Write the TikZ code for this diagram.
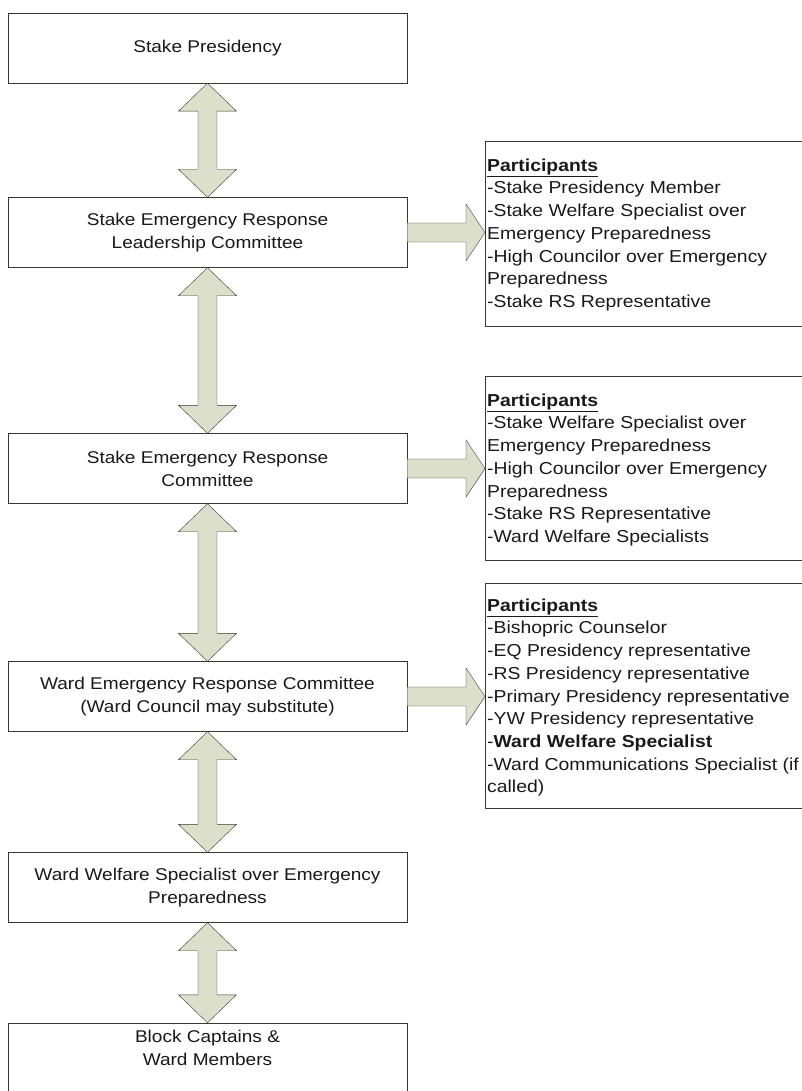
\documentclass[tikz,border=0pt]{standalone}
\usepackage{fontspec}
\setmainfont[FakeStretch=1.12]{Liberation Sans}
\usetikzlibrary{calc}

\definecolor{arrowfill}{RGB}{220,223,202}
\definecolor{boxline}{RGB}{55,55,55}
\definecolor{textgray}{RGB}{25,25,25}

\tikzset{
    box/.style={draw=boxline, fill=white, minimum width=399pt, minimum height=70pt, align=center, inner sep=2pt},
    partbox/.style={draw=boxline, minimum width=330pt, anchor=north west, inner sep=0pt},
    parttext/.style={anchor=north west, align=left, inner sep=0pt, font=\fontsize{17.3pt}{22.7pt}\selectfont},
    blockarrow/.style={draw=boxline, fill=arrowfill, line join=miter}
}

\newcommand{\vlink}[2]{%
    \draw[blockarrow] let \p1=(#1.south), \p2=(#2.north) in
        (\p1) -- (\x1+29pt,\y1-28pt) -- (\x1+9.5pt,\y1-28pt) -- (\x1+9.5pt,\y2+28pt)
        -- (\x1+29pt,\y2+28pt) -- (\x1,\y2) -- (\x1-29pt,\y2+28pt) -- (\x1-9.5pt,\y2+28pt)
        -- (\x1-9.5pt,\y1-28pt) -- (\x1-29pt,\y1-28pt) -- cycle;}

\newcommand{\hlink}[2]{%
    \draw[blockarrow] let \p1=(#1.east), \p2=(#2.west) in
        (\x1,\y1+9.5pt) -- (\x2-19pt,\y1+9.5pt) -- (\x2-19pt,\y1+28.5pt) -- (\x2,\y1)
        -- (\x2-19pt,\y1-28.5pt) -- (\x2-19pt,\y1-9.5pt) -- (\x1,\y1-9.5pt) -- cycle;}

\begin{document}
\begin{tikzpicture}[x=1pt, y=-1pt, font=\fontsize{17pt}{23pt}\selectfont, text=textgray]
                \useasboundingbox (0, 0) rectangle (802, 1091);

                \node[box] (presidency) at (207.5, 48) {Stake Presidency};

                \node[box] (leadership) at (207.5, 232.5) {Stake Emergency Response\\Leadership Committee};

                \node[box] (stakecom) at (207.5, 468.5) {Stake Emergency Response\\Committee};

                \node[box] (wardcom) at (207.5, 696.5) {Ward Emergency Response Committee\\(Ward Council may substitute)};

                \node[box] (specialist) at (207.5, 887.5) {Ward Welfare Specialist over Emergency\\Preparedness};

                \node[box, text depth=20pt] (members) at (207.5, 1058) {Block Captains \&\\Ward Members};

                \node[partbox, minimum height=185pt] (part1) at (485, 141) {};

                \node[parttext] at (487, 158.5) {\textbf{\underline{Participants}}\\-Stake Presidency Member\\-Stake Welfare Specialist over\\Emergency Preparedness\\-High Councilor over Emergency\\Preparedness\\-Stake RS Representative};

                \node[partbox, minimum height=184pt] (part2) at (485, 376) {};

                \node[parttext] at (487, 393.5) {\textbf{\underline{Participants}}\\-Stake Welfare Specialist over\\Emergency Preparedness\\-High Councilor over Emergency\\Preparedness\\-Stake RS Representative\\-Ward Welfare Specialists};

                \node[partbox, minimum height=225pt] (part3) at (485, 583) {};

                \node[parttext] at (487, 598.5) {\textbf{\underline{Participants}}\\-Bishopric Counselor\\-EQ Presidency representative\\-RS Presidency representative\\-Primary Presidency representative\\-YW Presidency representative\\-\textbf{Ward Welfare Specialist}\\-Ward Communications Specialist (if\\called)};

                \vlink{presidency}{leadership}

                \vlink{leadership}{stakecom}

                \vlink{stakecom}{wardcom}

                \vlink{wardcom}{specialist}

                \vlink{specialist}{members}

                \hlink{leadership}{part1}

                \hlink{stakecom}{part2}

                \hlink{wardcom}{part3}
\end{tikzpicture}
\end{document}
